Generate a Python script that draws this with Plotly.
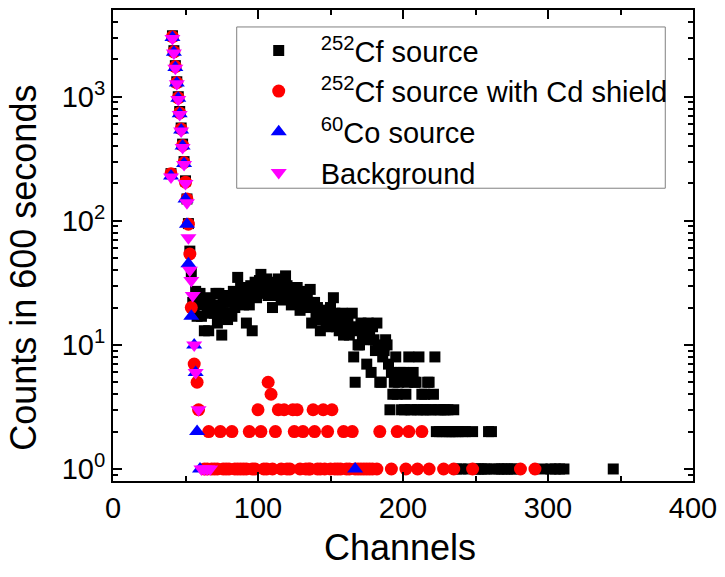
import plotly.graph_objects as go

# ---------------- data ----------------
# 252Cf source
cf_peak_channels = list(range(40, 55))
cf_peak_counts = [240, 3100, 2350, 1780, 1320, 1000, 760, 560, 415, 300, 210, 150, 95, 57, 38]

cf_hump_channels = list(range(55, 237))
cf_hump_counts = [
    22, 19, 27, 17, 24, 26, 17, 21, 13, 22,   # 55-64
    19, 13, 24, 18, 21, 18, 26, 15, 26, 20,   # 65-74
    12, 22, 18, 25, 16, 22, 25, 17, 27, 20,   # 75-84
    24, 35, 22, 29, 26, 21, 28, 15, 24, 21,   # 85-94
    30, 13, 27, 32, 24, 29, 33, 37, 26, 31,   # 95-104
    28, 34, 25, 30, 27, 20, 32, 28, 25, 34,   # 105-114
    29, 23, 31, 26, 36, 30, 24, 28, 21, 29,   # 115-124
    26, 22, 29, 25, 19, 27, 23, 25, 20, 24,   # 125-134
    22, 28, 15, 21, 22, 18, 20, 16, 13, 19,   # 135-144
    18, 19, 15, 14, 17, 20, 16, 24, 18, 14,   # 145-154
    16, 13, 15, 18, 12, 15, 13, 16, 12, 14,   # 155-164
    18, 8, 5, 13, 10, 10, 15, 12, 11, 14,     # 165-174
    7, 15, 12, 6, 14, 11, 9, 15, 10, 5,       # 175-184
    5, 8, 9, 11, 10, 7, 3, 6, 4, 5,           # 185-194
    8, 4, 5, 6, 3, 6, 3, 4, 5, 8,             # 195-204
    3, 3, 6, 5, 5, 3, 8, 3, 4, 3,             # 205-214
    4, 3, 5, 5, 3, 3, 4, 8, 2, 3,             # 215-224
    2, 3, 2, 3, 3, 2, 3, 2, 2, 2,             # 225-234
    3, 2,                                     # 235-236
]

cf_tail_channels = [237, 238, 240, 241, 243, 245, 248, 250, 252, 254, 256, 258, 259,
                    261, 263, 266, 268, 270, 272, 275, 277, 296, 302, 305, 308, 311, 345]
cf_tail_counts = [1, 2, 1, 2, 2, 1, 2, 1, 1, 1, 1, 1, 2,
                  2, 1, 1, 1, 1, 1, 1, 1, 1, 1, 1, 1, 1, 1]

# 252Cf source with Cd shield
cd_channels = [40, 41, 42, 43, 44, 45, 46, 47, 48, 49, 50, 51, 52, 53, 54, 56, 58, 59,
               63, 65, 66, 68, 70, 72, 74, 76, 78, 80, 82, 84, 86, 88, 90, 92, 94, 96, 98,
               100, 102, 104, 106, 107, 109, 110, 112, 114, 116, 118, 120, 122, 124, 125,
               127, 129, 131, 133, 135, 136, 138, 139, 141, 143, 145, 146, 148, 150, 151,
               153, 155, 157, 159, 161, 163, 165, 167, 169, 171, 173, 175, 177, 179, 182,
               184, 192, 196, 202, 204, 210, 213, 218, 228, 235, 248, 281, 291]
cd_counts = [240, 3050, 2300, 1750, 1300, 980, 740, 550, 405, 295, 205, 150, 94, 54, 20, 7, 5, 3,
             1, 1, 2, 1, 1, 1, 2, 1, 1, 1, 2, 1, 1, 1, 1, 1, 2, 1, 1,
             3, 2, 1, 1, 5, 4, 1, 2, 3, 1, 3, 1, 1, 3, 2,
             3, 1, 2, 1, 1, 1, 3, 2, 1, 1, 3, 1, 2, 1, 3,
             1, 1, 1, 2, 1, 1, 2, 1, 1, 1, 1, 1, 1, 1, 1,
             2, 1, 2, 1, 2, 1, 2, 1, 1, 1, 1, 1, 1]

# 60Co source
co_channels = [40, 41, 42, 43, 44, 45, 46, 47, 48, 49, 50, 51, 52, 54, 56, 57, 58, 60, 167]
co_counts = [230, 3000, 2280, 1720, 1290, 970, 730, 540, 400, 290, 150, 94, 45, 17, 10, 6, 2, 1, 1]

# Background
bg_channels = [40, 41, 42, 43, 44, 45, 46, 47, 48, 49, 50, 51, 52, 53, 54, 55, 56, 57, 59,
               61, 63, 65, 67]
bg_counts = [225, 2950, 2250, 1700, 1270, 950, 720, 530, 390, 285, 200, 140, 73, 40, 33, 25, 10, 6, 3,
             1, 1, 1, 1]

x_tick_values = [0, 100, 200, 300, 400]
x_minor_values = [50, 150, 250, 350]
y_tick_values = [1, 10, 100, 1000]
y_tick_text = ["10<sup>0</sup>", "10<sup>1</sup>", "10<sup>2</sup>", "10<sup>3</sup>"]
y_minor_values = [0.9, 2, 3, 4, 5, 6, 7, 8, 9, 20, 30, 40, 50, 60, 70, 80, 90,
                  200, 300, 400, 500, 600, 700, 800, 900, 2000, 3000, 4000]

series_names = ["<sup>252</sup>Cf source", "<sup>252</sup>Cf source with Cd shield",
                "<sup>60</sup>Co source", "Background"]

# ---------------- figure ----------------
FONT = "Arial, Liberation Sans, sans-serif"
fig = go.Figure()

fig.add_trace(go.Scatter(
    x=cf_peak_channels + cf_hump_channels + cf_tail_channels,
    y=cf_peak_counts + cf_hump_counts + cf_tail_counts,
    mode="markers", name=series_names[0],
    marker=dict(symbol="square", size=11, color="#000000")))
fig.add_trace(go.Scatter(
    x=cd_channels, y=cd_counts, mode="markers", name=series_names[1],
    marker=dict(symbol="circle", size=13, color="#FF0000")))
fig.add_trace(go.Scatter(
    x=co_channels, y=co_counts, mode="markers", name=series_names[2],
    marker=dict(symbol="triangle-up", size=14, color="#0000FF")))
fig.add_trace(go.Scatter(
    x=bg_channels, y=bg_counts, mode="markers", name=series_names[3],
    marker=dict(symbol="triangle-down", size=14, color="#FF00FF")))

fig.update_layout(
    width=725, height=577,
    margin=dict(l=113, r=26, t=8, b=96),
    paper_bgcolor="white", plot_bgcolor="white",
    font=dict(family=FONT, color="black"),
    showlegend=True,
    legend=dict(x=0.2133, y=0.968, xanchor="left", yanchor="top",
                bgcolor="rgba(0,0,0,0)", borderwidth=0,
                font=dict(size=29, family=FONT, color="black"),
                itemwidth=74, tracegroupgap=0),
    shapes=[dict(type="rect", xref="paper", yref="paper",
                 x0=0.2133, x1=0.9522, y0=0.6216, y1=0.964,
                 line=dict(color="#808080", width=1),
                 fillcolor="white", layer="below")],
)

fig.update_xaxes(
    range=[0, 400], tickmode="array", tickvals=x_tick_values,
    ticks="inside", ticklen=9, tickwidth=1.5, tickcolor="black",
    showline=True, linewidth=2, linecolor="black", mirror="ticks",
    showgrid=False, zeroline=False,
    tickfont=dict(size=29, family=FONT, color="black"),
    minor=dict(tickmode="array", tickvals=x_minor_values, ticks="inside",
               ticklen=5, tickwidth=1.5, tickcolor="black", showgrid=False),
)
fig.update_yaxes(
    type="log", range=[-0.0969, 3.699],
    tickmode="array", tickvals=y_tick_values, ticktext=y_tick_text,
    ticks="inside", ticklen=9, tickwidth=1.5, tickcolor="black",
    showline=True, linewidth=2, linecolor="black", mirror="ticks",
    showgrid=False, zeroline=False,
    tickfont=dict(size=29, family=FONT, color="black"),
    minor=dict(tickmode="array", tickvals=y_minor_values, ticks="inside",
               ticklen=5, tickwidth=1.5, tickcolor="black", showgrid=False),
)

fig.add_annotation(text="Counts in 600 seconds", xref="paper", yref="paper",
                   x=-0.1536, y=0.4524, xanchor="center", yanchor="middle",
                   textangle=-90, showarrow=False,
                   font=dict(size=36, family=FONT, color="black"))
fig.add_annotation(text="Channels", xref="paper", yref="paper",
                   x=0.4949, y=-0.1416, xanchor="center", yanchor="middle",
                   showarrow=False,
                   font=dict(size=36, family=FONT, color="black"))

fig.write_html("out.html")
